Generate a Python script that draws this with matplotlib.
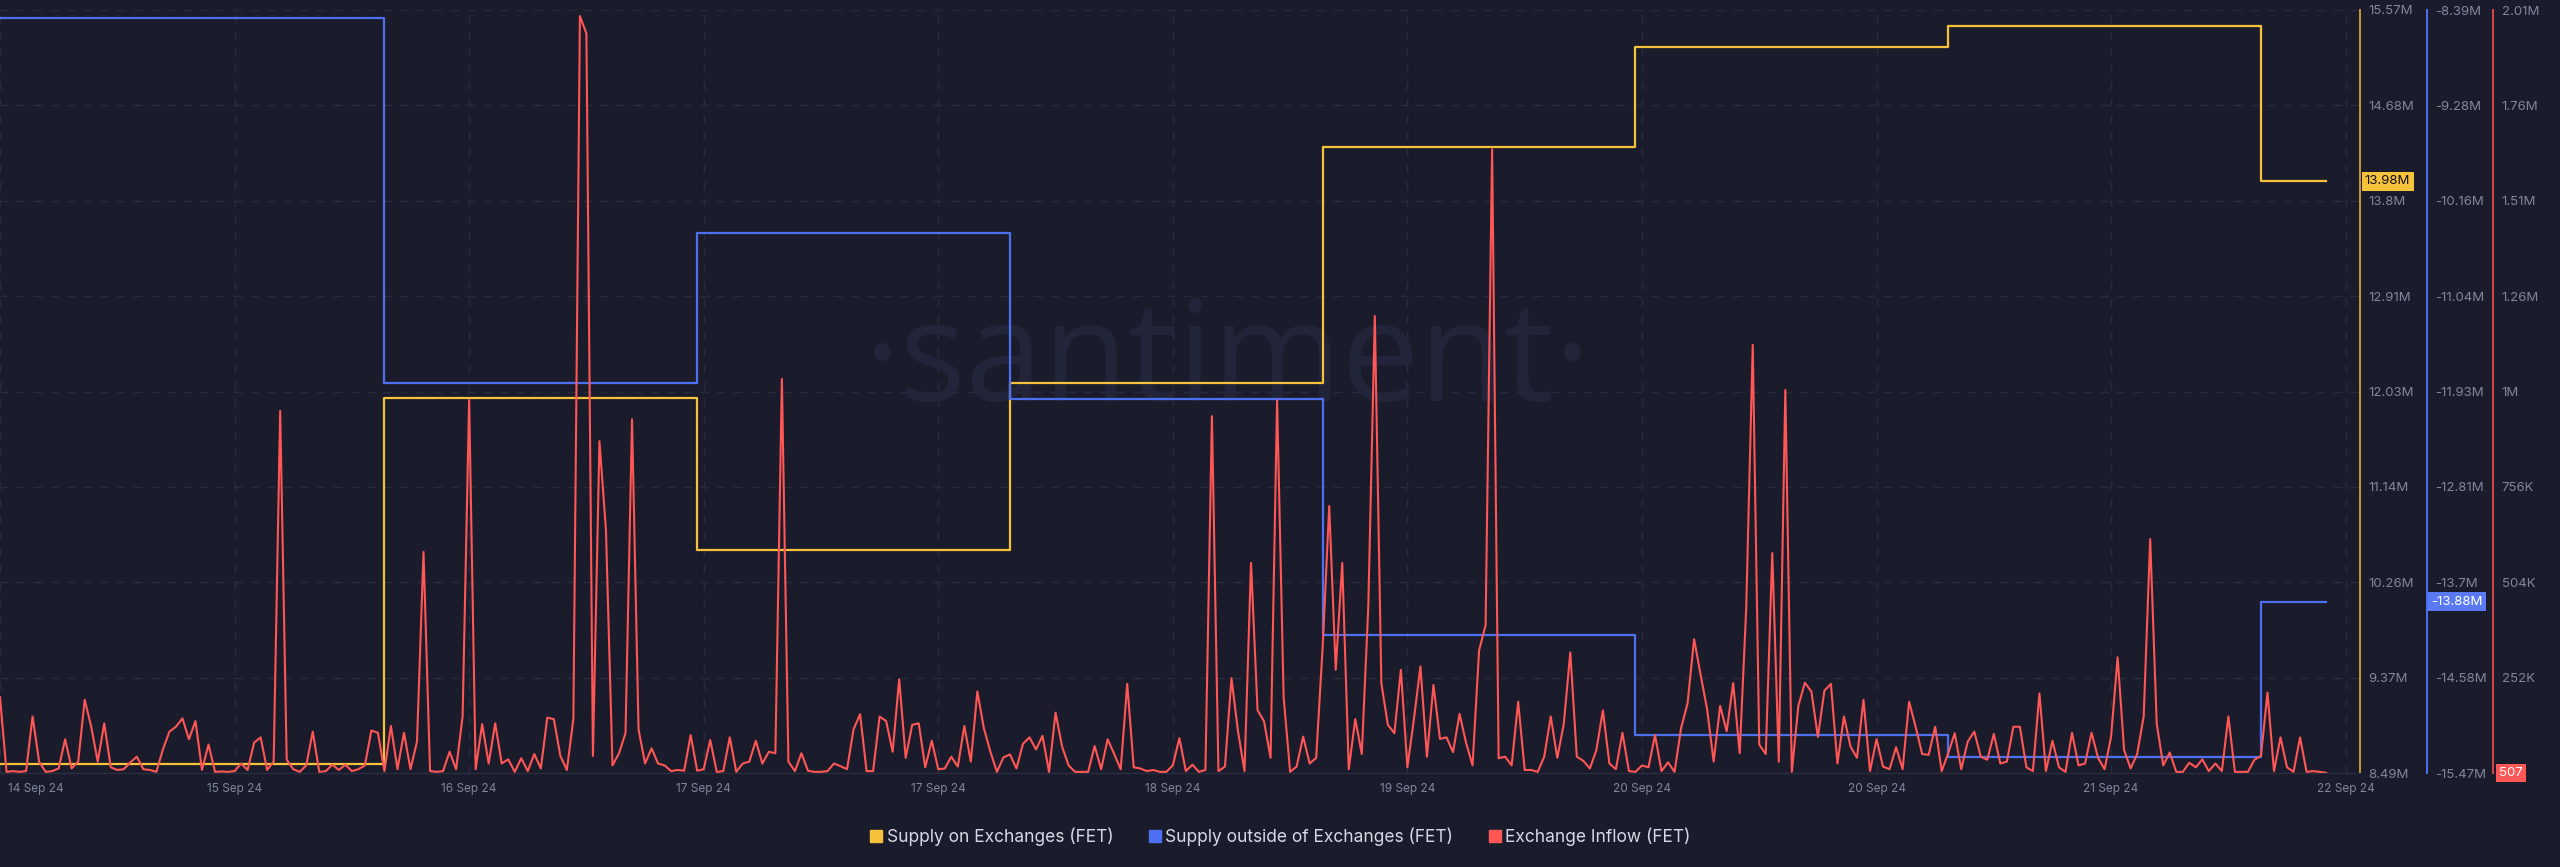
import numpy as np
import pandas as pd
import matplotlib
matplotlib.use('Agg')
import matplotlib.pyplot as plt
from matplotlib.lines import Line2D
from matplotlib.transforms import ScaledTranslation, blended_transform_factory

plt.rcParams['font.family'] = ['Inter', 'DejaVu Sans']

# ---- data ----
start = pd.Timestamp('2024-09-14 12:00')

# exchange inflow, thousands of FET, one value per 30 min
inflow_k = [
    200, 3, 5, 3, 5, 149, 30, 3, 5, 12,
    89, 12, 30, 193, 122, 30, 131, 15, 8, 10,
    28, 43, 10, 8, 3, 62, 109, 122, 144, 89,
    137, 8, 75, 3, 4, 3, 5, 25, 8, 80,
    94, 8, 30, 955, 35, 10, 3, 20, 109, 3,
    5, 22, 8, 22, 5, 10, 20, 112, 106, 5,
    124, 10, 106, 10, 83, 583, 5, 3, 5, 56,
    10, 150, 984, 10, 129, 25, 131, 25, 36, 3,
    39, 5, 50, 12, 146, 142, 45, 8, 143, 1996,
    1950, 45, 875, 640, 20, 52, 105, 933, 115, 25,
    65, 25, 20, 5, 8, 6, 100, 6, 10, 87,
    3, 5, 94, 3, 25, 30, 85, 25, 56, 52,
    1039, 30, 5, 52, 6, 3, 3, 5, 25, 18,
    10, 115, 155, 5, 5, 149, 137, 56, 247, 40,
    127, 131, 15, 85, 10, 12, 43, 17,
    124, 30, 215, 118, 56, 3, 41, 49, 12, 77,
    94, 62, 98, 3, 159, 70, 20, 3, 3, 3,
    71, 10, 89, 50, 10, 235, 15, 12, 5, 8,
    3, 3, 20, 92, 5, 22, 3, 8, 941, 5,
    17, 250, 110, 5, 554, 166, 136, 40, 983, 201,
    3, 17, 96, 25, 40, 334, 704, 272, 554, 10,
    142, 50, 440, 1205, 237, 127, 105, 272, 15, 142,
    281, 43, 232, 90,
    94, 55, 156, 80, 20, 323, 390, 1645, 39, 43,
    20, 188, 8, 8, 3, 43, 149, 40, 129, 318,
    43, 32, 12, 60, 165, 25, 10, 106, 5, 3,
    20, 15, 100, 5, 28, 3, 118, 184, 353, 259,
    168, 30, 177, 110, 237, 52, 435, 1129, 75, 50,
    580, 30, 1010, 3, 177, 238, 215, 95, 217, 235,
    25, 149, 70, 40, 193, 5, 89, 17, 10, 68,
    10, 188, 122,
    50, 48, 122, 5, 52, 105, 10, 83, 109, 43,
    35, 103, 25, 30, 122, 122, 15, 5, 210, 5,
    85, 15, 3, 106, 20, 25, 106, 40, 10, 96,
    305, 60, 12, 50, 149, 617, 130, 20, 54, 3,
    3, 27, 15, 36, 5, 25, 5, 149, 3, 3,
    3, 35, 45, 212, 5, 94, 15, 3, 94, 3,
    5, 3, 0.507,
]

# daily supply snapshots, millions of FET
step_dates = ['2024-09-14 12:00', '2024-09-15 17:30', '2024-09-16 17:30',
              '2024-09-17 17:30', '2024-09-18 17:30', '2024-09-19 17:30',
              '2024-09-20 17:30', '2024-09-21 17:30']
supply_on = [8.57, 11.97, 10.56, 12.11, 14.30, 15.23, 15.42, 13.98]
supply_out = [-8.46, -11.85, -10.46, -12.00, -14.19, -15.12, -15.32, -13.88]

date_labels = ['14 Sep 24', '15 Sep 24', '16 Sep 24', '17 Sep 24', '17 Sep 24',
               '18 Sep 24', '19 Sep 24', '20 Sep 24', '20 Sep 24', '21 Sep 24',
               '22 Sep 24']
on_labels = ['8.49M', '9.37M', '10.26M', '11.14M', '12.03M', '12.91M',
             '13.8M', '14.68M', '15.57M']
out_labels = ['-15.47M', '-14.58M', '-13.7M', '-12.81M', '-11.93M', '-11.04M',
              '-10.16M', '-9.28M', '-8.39M']
inflow_labels = ['', '252K', '504K', '756K', '1M', '1.26M', '1.51M', '1.76M', '2.01M']

# ---- styling ----
BG = '#1b1c2b'
YEL = '#f7c23b'
BLU = '#4d6ff2'
RED = '#ff5656'
TXT = '#80869b'
GRID = '#282b3d'

inflow = np.array(inflow_k) * 1e3
t_inflow = pd.date_range(start, periods=len(inflow), freq='30min')
t_step = pd.DatetimeIndex(pd.to_datetime(step_dates)).append(pd.DatetimeIndex([t_inflow[-1]]))
on_vals = np.array(supply_on + [supply_on[-1]]) * 1e6
out_vals = np.array(supply_out + [supply_out[-1]]) * 1e6

fig = plt.figure(figsize=(25.6, 8.67), dpi=100, facecolor=BG)
ax = fig.add_axes([0, 1 - 773 / 867, 2360 / 2560, 763 / 867])
ax.set_facecolor(BG)
ax_b = ax.twinx()
ax_r = ax.twinx()

ax.plot(t_step, on_vals, drawstyle='steps-post', color=YEL, lw=1.6, zorder=3)
ax_b.plot(t_step, out_vals, drawstyle='steps-post', color=BLU, lw=1.6, zorder=3)
ax_r.plot(t_inflow, inflow, color=RED, lw=1.5, zorder=3)

x_end = start + pd.Timedelta(hours=181.1)
ax.set_xlim(start, x_end)

on_ticks = np.linspace(8.49e6, 15.57e6, 9)
out_ticks = np.linspace(-15.47e6, -8.39e6, 9)
in_ticks = np.linspace(0, 2.012e6, 9)
ax.set_ylim(on_ticks[0], on_ticks[-1])
ax_b.set_ylim(out_ticks[0], out_ticks[-1])
ax_r.set_ylim(in_ticks[0], in_ticks[-1])

x_ticks = [start + pd.Timedelta(hours=18 * k) for k in range(len(date_labels))]
ax.set_xticks(x_ticks)
ax.set_xticklabels(date_labels)
ax.tick_params(axis='x', length=0, pad=7, labelsize=8.5, labelcolor=TXT)

ax.yaxis.tick_right()
ax.set_yticks(on_ticks)
ax.set_yticklabels(on_labels)
ax_b.set_yticks(out_ticks)
ax_b.set_yticklabels(out_labels)
ax_r.set_yticks(in_ticks)
ax_r.set_yticklabels(inflow_labels)
for a in (ax, ax_b, ax_r):
    a.tick_params(axis='y', length=0, pad=6, labelsize=9.5, labelcolor=TXT)
    for s in ('left', 'top', 'bottom'):
        a.spines[s].set_visible(False)
ax.spines['bottom'].set_visible(True)
ax.spines['bottom'].set_color('#2c2f42')
ax.spines['right'].set_color('#c99a2e')
ax_b.spines['right'].set_position(('outward', 48))
ax_b.spines['right'].set_color(BLU)
ax_r.spines['right'].set_position(('outward', 96))
ax_r.spines['right'].set_color('#d9464c')
for a in (ax, ax_b, ax_r):
    a.spines['right'].set_linewidth(1.4)

ax.grid(True, color=GRID, lw=1, ls=(0, (6, 6)))
ax.set_axisbelow(True)

# first date label sits right of the edge
lab0 = ax.get_xticklabels()[0]
lab0.set_horizontalalignment('left')
lab0.set_transform(lab0.get_transform() + ScaledTranslation(0.08, 0, fig.dpi_scale_trans))

# watermark
ax.text(0.52, 0.535, '·santiment·', transform=ax.transAxes, ha='center', va='center',
        fontsize=100, color='#222539', family=['Open Sans', 'DejaVu Sans'], zorder=1)

# current value badges
def badge(a, y, text, fc, tc, dx):
    tr = blended_transform_factory(a.transAxes, a.transData)
    a.annotate(text, xy=(1, y), xycoords=tr, xytext=(dx, 0), textcoords='offset points',
               ha='left', va='center', fontsize=9.5, color=tc, zorder=10,
               bbox=dict(boxstyle='square,pad=0.25', fc=fc, ec='none'),
               annotation_clip=False)

badge(ax, supply_on[-1] * 1e6, '13.98M', YEL, '#111111', 3.5)
badge(ax_b, supply_out[-1] * 1e6, '-13.88M', '#5a7af5', 'white', 48 + 3.5)
badge(ax_r, 0, '507', RED, 'white', 96 + 4)

handles = [Line2D([], [], ls='none', marker='s', ms=8.5, mfc=c, mec=c) for c in (YEL, BLU, RED)]
fig.legend(handles, ['Supply on Exchanges (FET)', 'Supply outside of Exchanges (FET)',
                     'Exchange Inflow (FET)'],
           loc='center', bbox_to_anchor=(0.5, 1 - 837 / 867), ncol=3, frameon=False,
           fontsize=12.5, labelcolor='#d6d9e4', handletextpad=0.2, columnspacing=2.0,
           handlelength=0.8)

fig.savefig('out.png', dpi=100, facecolor=BG)
